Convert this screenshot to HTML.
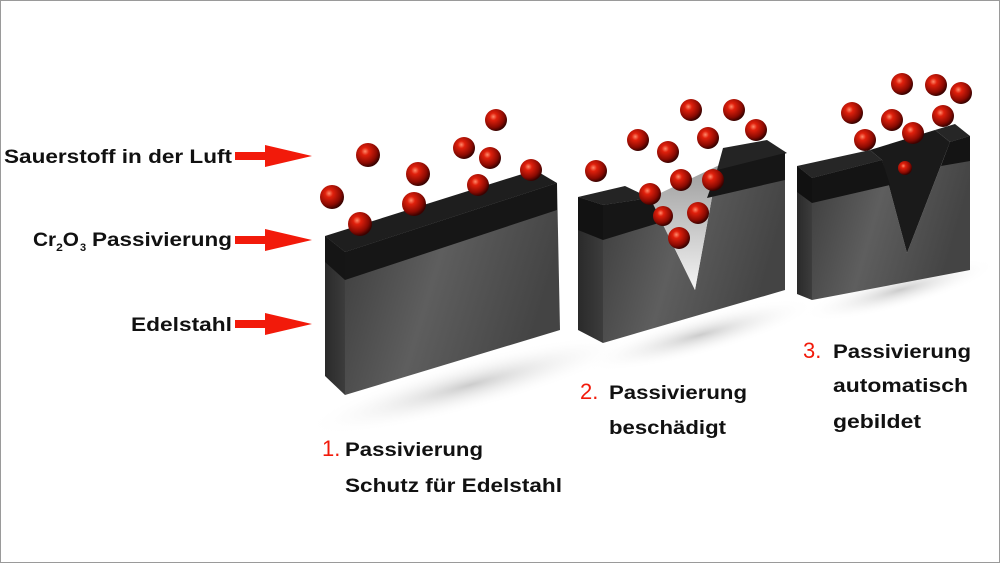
<!DOCTYPE html>
<html><head><meta charset="utf-8"><style>
html,body{margin:0;padding:0;background:#fff}
svg{display:block}
text{font-family:"Liberation Sans",sans-serif}
</style></head><body>
<svg width="1000" height="563" viewBox="0 0 1000 563" xmlns="http://www.w3.org/2000/svg">
<defs>
<radialGradient id="ball" cx="0.38" cy="0.35" r="0.65">
<stop offset="0" stop-color="#ff8a6a"/><stop offset="0.25" stop-color="#e0200c"/><stop offset="0.75" stop-color="#8a0a02"/><stop offset="1" stop-color="#3a0200"/>
</radialGradient>
<linearGradient id="front" x1="0" y1="0" x2="1" y2="0.3">
<stop offset="0" stop-color="#3a3a3a"/><stop offset="0.5" stop-color="#5e5e5e"/><stop offset="1" stop-color="#444"/>
</linearGradient>
<linearGradient id="side" x1="0" y1="0" x2="1" y2="0">
<stop offset="0" stop-color="#2a2a2a"/><stop offset="1" stop-color="#3c3c3c"/>
</linearGradient>
<linearGradient id="vin" x1="0" y1="0" x2="0" y2="1">
<stop offset="0" stop-color="#999"/><stop offset="1" stop-color="#f4f4f4"/>
</linearGradient>
<radialGradient id="shadow" cx="0.5" cy="0.5" r="0.5">
<stop offset="0" stop-color="#ccc"/><stop offset="1" stop-color="#fff" stop-opacity="0"/>
</radialGradient>
</defs>
<rect x="0.5" y="0.5" width="999" height="562" fill="#fff" stroke="#9a9a9a"/>
<ellipse cx="470" cy="385" rx="170" ry="25" fill="url(#shadow)" transform="rotate(-15 470 385)"/>
<ellipse cx="700" cy="335" rx="120" ry="20" fill="url(#shadow)" transform="rotate(-15 700 335)"/>
<ellipse cx="900" cy="290" rx="100" ry="18" fill="url(#shadow)" transform="rotate(-15 900 290)"/>

<!-- Block 1 -->
<polygon points="325,236 345,252 345,395 325,376" fill="url(#side)"/>
<polygon points="345,252 557,183 560,330 345,395" fill="url(#front)"/>
<polygon points="325,236 535,170 557,183 345,252" fill="#1e1e1e"/>
<polygon points="325,236 345,252 345,280 325,262" fill="#151515"/>
<polygon points="345,252 557,183 557,210 345,280" fill="#161616"/>

<!-- Block 2 -->
<polygon points="578,197 603,205 603,343 578,330" fill="url(#side)"/>
<polygon points="603,205 650,198 695,290 717,170 785,153 785,290 603,343" fill="url(#front)"/>
<polygon points="650,198 695,290 717,170 730,160" fill="url(#vin)"/>
<polygon points="578,197 625,186 650,198 603,205" fill="#242424"/>
<polygon points="603,205 650,198 662,222 603,240" fill="#161616"/>
<polygon points="578,197 603,205 603,240 578,230" fill="#121212"/>
<polygon points="723,148 767,140 787,153 748,167 717,170" fill="#242424"/>
<polygon points="717,170 785,153 785,180 707,198" fill="#161616"/>

<!-- Block 3 -->
<polygon points="797,166 812,178 812,300 797,294" fill="url(#side)"/>
<polygon points="812,178 882,160 907,253 950,142 970,136 970,270 812,300" fill="url(#front)"/>
<polygon points="870,150 882,160 907,253 950,142 935,130" fill="#1a1a1a"/>
<polygon points="797,166 870,150 882,160 812,178" fill="#262626"/>
<polygon points="935,130 955,124 970,136 950,142" fill="#262626"/>
<polygon points="812,178 882,160 890,185 812,203" fill="#141414"/>
<polygon points="797,166 812,178 812,203 797,192" fill="#111"/>
<polygon points="950,142 970,136 970,161 941,166" fill="#141414"/>

<g fill="url(#ball)">
<circle cx="368" cy="155" r="12"/><circle cx="332" cy="197" r="12"/><circle cx="360" cy="224" r="12"/>
<circle cx="414" cy="204" r="12"/><circle cx="418" cy="174" r="12"/><circle cx="464" cy="148" r="11"/>
<circle cx="490" cy="158" r="11"/><circle cx="496" cy="120" r="11"/><circle cx="478" cy="185" r="11"/>
<circle cx="531" cy="170" r="11"/>
<circle cx="596" cy="171" r="11"/><circle cx="638" cy="140" r="11"/><circle cx="691" cy="110" r="11"/>
<circle cx="734" cy="110" r="11"/><circle cx="756" cy="130" r="11"/><circle cx="708" cy="138" r="11"/>
<circle cx="668" cy="152" r="11"/><circle cx="650" cy="194" r="11"/><circle cx="663" cy="216" r="10"/>
<circle cx="681" cy="180" r="11"/><circle cx="713" cy="180" r="11"/><circle cx="698" cy="213" r="11"/>
<circle cx="679" cy="238" r="11"/>
<circle cx="902" cy="84" r="11"/><circle cx="936" cy="85" r="11"/><circle cx="961" cy="93" r="11"/>
<circle cx="852" cy="113" r="11"/><circle cx="892" cy="120" r="11"/><circle cx="943" cy="116" r="11"/>
<circle cx="913" cy="133" r="11"/><circle cx="865" cy="140" r="11"/><circle cx="905" cy="168" r="7"/>
</g>

<g font-size="19" font-weight="bold" fill="#111">
<text x="4" y="163" textLength="228" lengthAdjust="spacingAndGlyphs">Sauerstoff in der Luft</text>
<text x="33" y="246" textLength="46" lengthAdjust="spacingAndGlyphs">Cr<tspan font-size="11" dy="5">2</tspan><tspan dy="-5">O</tspan></text>
<text x="80" y="251" font-size="11">3</text>
<text x="92" y="246" textLength="140" lengthAdjust="spacingAndGlyphs">Passivierung</text>
<text x="131" y="331" textLength="101" lengthAdjust="spacingAndGlyphs">Edelstahl</text>
</g>
<g fill="#f21a0a">
<polygon points="235,152 265,152 265,145 312,156 265,167 265,160 235,160"/>
<polygon points="235,236 265,236 265,229 312,240 265,251 265,244 235,244"/>
<polygon points="235,320 265,320 265,313 312,324 265,335 265,328 235,328"/>
</g>
<g font-size="19" fill="#111" font-weight="bold">
<text x="322" y="456" fill="#f21a0a" font-size="22" font-weight="normal">1.</text>
<text x="345" y="456" textLength="138" lengthAdjust="spacingAndGlyphs">Passivierung</text>
<text x="345" y="492" textLength="217" lengthAdjust="spacingAndGlyphs">Schutz für Edelstahl</text>
<text x="580" y="399" fill="#f21a0a" font-size="22" font-weight="normal">2.</text>
<text x="609" y="399" textLength="138" lengthAdjust="spacingAndGlyphs">Passivierung</text>
<text x="609" y="434" textLength="117" lengthAdjust="spacingAndGlyphs">beschädigt</text>
<text x="803" y="358" fill="#f21a0a" font-size="22" font-weight="normal">3.</text>
<text x="833" y="358" textLength="138" lengthAdjust="spacingAndGlyphs">Passivierung</text>
<text x="833" y="392" textLength="135" lengthAdjust="spacingAndGlyphs">automatisch</text>
<text x="833" y="428" textLength="88" lengthAdjust="spacingAndGlyphs">gebildet</text>
</g>
</svg>
</body></html>
